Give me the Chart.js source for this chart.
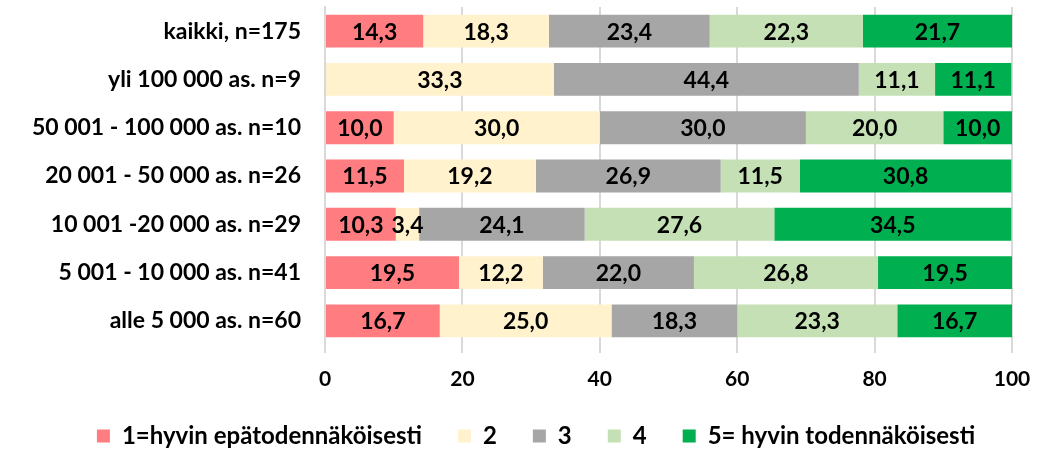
<!DOCTYPE html>
<html>
<head>
<meta charset="utf-8">
<script src="https://cdn.jsdelivr.net/npm/chart.js@4"></script>
<style>
  html, body { margin: 0; padding: 0; background: #fff; }
  #wrap { width: 1061px; height: 449px; }
</style>
</head>
<body>
<div id="wrap"><canvas id="chart"></canvas></div>
<script>
// kategoriat (ylhäältä alas)
const categories = [
    'kaikki, n=175',
    'yli 100 000 as. n=9',
    '50 001 - 100 000 as. n=10',
    '20 001 - 50 000 as. n=26',
    '10 001 -20 000 as. n=29',
    '5 001 - 10 000 as. n=41',
    'alle 5 000 as. n=60'
];

const seriesNames = ['1=hyvin epätodennäköisesti', '2', '3', '4', '5= hyvin todennäköisesti'];

// prosenttiosuudet per sarja
const s1 = [14.3, 0, 10.0, 11.5, 10.3, 19.5, 16.7];
const s2 = [18.3, 33.3, 30.0, 19.2, 3.4, 12.2, 25.0];
const s3 = [23.4, 44.4, 30.0, 26.9, 24.1, 22.0, 18.3];
const s4 = [22.3, 11.1, 20.0, 11.5, 27.6, 26.8, 23.3];
const s5 = [21.7, 11.1, 10.0, 30.8, 34.5, 19.5, 16.7];

const xTicks = [0, 20, 40, 60, 80, 100];

const colors = ['#FF7C80', '#FFF2CC', '#A6A6A6', '#C5E0B4', '#00B050'];
const FONT = 'Lato, "DejaVu Sans", sans-serif';

// arvot palkkien keskelle
const barLabels = {
    id: 'barLabels',
    afterDatasetsDraw(chart) {
        const ctx = chart.ctx;
        ctx.save();
        ctx.font = 'bold 23px ' + FONT;
        ctx.fillStyle = '#000';
        ctx.textAlign = 'center';
        ctx.textBaseline = 'middle';
        chart.data.datasets.forEach((ds, di) => {
            const meta = chart.getDatasetMeta(di);
            meta.data.forEach((bar, i) => {
                const v = ds.data[i];
                if (!v) return;
                const cx = (bar.x + bar.base) / 2;
                ctx.fillText(v.toFixed(1).replace('.', ','), cx, bar.y + 1);
            });
        });
        ctx.restore();
    }
};

// selite lähemmäs alareunaa ja hieman oikealle
const legendPlace = {
    id: 'legendPlace',
    beforeInit(chart) {
        const origFit = chart.legend.fit;
        chart.legend.fit = function () {
            origFit.bind(chart.legend)();
            this.height = 61;
        };
    },
    afterLayout(chart) {
        chart.legend.left += 30;
        chart.legend.right += 30;
    }
};

const allData = [s1, s2, s3, s4, s5];

new Chart(document.getElementById('chart'), {
    type: 'bar',
    data: {
        labels: categories,
        datasets: allData.map((d, i) => ({
            label: seriesNames[i],
            data: d,
            backgroundColor: colors[i],
            borderWidth: 0,
            barPercentage: 0.68,
            categoryPercentage: 1
        }))
    },
    options: {
        indexAxis: 'y',
        responsive: true,
        maintainAspectRatio: false,
        animation: false,
        layout: { padding: { left: 0, right: 49, top: 7, bottom: 0 } },
        scales: {
            x: {
                stacked: true,
                min: 0,
                max: 100,
                afterBuildTicks: scale => { scale.ticks = xTicks.map(v => ({ value: v })); },
                afterFit: scale => { scale.height = 43; },
                grid: { color: '#d9d9d9', lineWidth: 2, tickLength: 8 },
                border: { display: false },
                ticks: { color: '#000', padding: 14, font: { family: FONT, size: 21, weight: 'bold' } }
            },
            y: {
                stacked: true,
                afterFit: scale => {
                    scale.width = 325;
                    scale.paddingTop = 0;
                    scale.paddingBottom = 0;
                },
                grid: { display: false },
                border: { display: true, color: '#d9d9d9', width: 2 },
                ticks: { color: '#000', padding: 16, font: { family: FONT, size: 23, weight: 'bold' } }
            }
        },
        plugins: {
            legend: {
                position: 'bottom',
                labels: {
                    boxWidth: 13,
                    boxHeight: 13,
                    padding: 36,
                    color: '#000',
                    font: { family: FONT, size: 24, weight: 'bold' }
                }
            },
            tooltip: { enabled: false }
        }
    },
    plugins: [barLabels, legendPlace]
});
</script>
</body>
</html>
